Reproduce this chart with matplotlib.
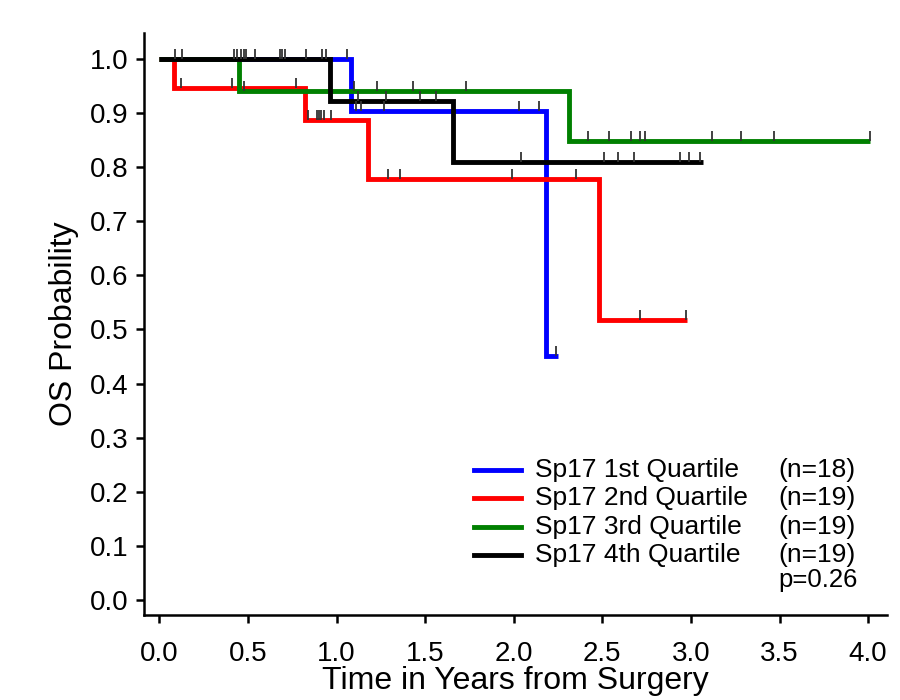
import numpy as np
import matplotlib
matplotlib.use("Agg")
import matplotlib.pyplot as plt
from matplotlib.lines import Line2D

plt.rcParams['font.family'] = ['Liberation Sans', 'DejaVu Sans']

# ---------------- data ----------------
group_labels = ["Sp17 1st Quartile", "Sp17 2nd Quartile", "Sp17 3rd Quartile", "Sp17 4th Quartile"]
group_n = ["(n=18)", "(n=19)", "(n=19)", "(n=19)"]
p_text = "p=0.26"

# 1st quartile (blue)
q1_event_t = [1.08, 2.18]
q1_event_s = [0.903, 0.451]
q1_censor_t = [0.09, 0.48, 0.49, 0.69, 0.71, 0.94, 1.06, 1.11, 1.14, 1.27, 2.03, 2.14, 2.24]
q1_end = 2.25

# 2nd quartile (red)
q2_event_t = [0.085, 0.82, 1.18, 2.48]
q2_event_s = [0.947, 0.887, 0.778, 0.518]
q2_censor_t = [0.12, 0.41, 0.77, 0.84, 0.89, 0.90, 0.91, 0.93, 0.97,
               1.29, 1.36, 1.99, 2.35, 2.71, 2.975]
q2_end = 2.98

# 3rd quartile (green)
q3_event_t = [0.45, 2.31]
q3_event_s = [0.941, 0.849]
q3_censor_t = [0.13, 0.42, 0.48, 1.10, 1.23, 1.43, 1.73,
               2.42, 2.54, 2.66, 2.71, 2.74, 3.12, 3.28, 3.47, 4.01]
q3_end = 4.01

# 4th quartile (black)
q4_event_t = [0.963, 1.66]
q4_event_s = [0.922, 0.809]
q4_censor_t = [0.44, 0.46, 0.54, 0.68, 0.83, 0.92, 1.12, 1.28, 1.47, 1.56,
               2.04, 2.51, 2.59, 2.68, 2.94, 2.99, 3.05]
q4_end = 3.07

colors = ["#0000ff", "#ff0000", "#008000", "#000000"]

x_ticks = [0.0, 0.5, 1.0, 1.5, 2.0, 2.5, 3.0, 3.5, 4.0]
y_ticks = [0.0, 0.1, 0.2, 0.3, 0.4, 0.5, 0.6, 0.7, 0.8, 0.9, 1.0]

groups = [
    (q1_event_t, q1_event_s, q1_censor_t, q1_end),
    (q2_event_t, q2_event_s, q2_censor_t, q2_end),
    (q3_event_t, q3_event_s, q3_censor_t, q3_end),
    (q4_event_t, q4_event_s, q4_censor_t, q4_end),
]

# ---------------- figure ----------------
W, H = 900, 700
fig = plt.figure(figsize=(W / 100, H / 100), dpi=100)
fig.patch.set_facecolor("white")

def px(x, y):
    return x / W, 1 - y / H

ax_l, ax_r, ax_t, ax_b = 144, 887, 33, 615
ax = fig.add_axes([ax_l / W, 1 - ax_b / H, (ax_r - ax_l) / W, (ax_b - ax_t) / H])

censor_marker = [(0, 0), (0, 1)]

for (et, es, ct, end), col in zip(groups, colors):
    t = np.array([0.0] + list(et) + [end])
    s = np.array([1.0] + list(es) + [es[-1]])
    ax.step(t, s, where="post", color=col, lw=3.5, solid_joinstyle="miter",
            solid_capstyle="butt", zorder=3)

for (et, es, ct, end), col in zip(groups, colors):
    et_a = np.array(et)
    s_full = np.array([1.0] + list(es))
    idx = np.searchsorted(et_a, np.array(ct), side="right")
    cs = s_full[idx]
    ax.plot(ct, cs, linestyle="none", marker=censor_marker, markersize=14,
            markeredgewidth=1.3, color="#333333", zorder=5)

ax.set_xlim((ax_l - 159.3) / 177.2, (ax_r - 159.3) / 177.2)
ax.set_ylim((600 - ax_b) / 541.0, (600 - ax_t) / 541.0)

ax.set_xticks(x_ticks)
ax.set_xticklabels([f"{v:.1f}" for v in x_ticks])
ax.set_yticks(y_ticks)
ax.set_yticklabels([f"{v:.1f}" for v in y_ticks])

for side in ["top", "right"]:
    ax.spines[side].set_visible(False)
for side in ["left", "bottom"]:
    ax.spines[side].set_linewidth(1.8)

ax.tick_params(axis="x", direction="out", length=6, width=1.8, labelsize=20, pad=13)
ax.tick_params(axis="y", direction="out", length=6, width=1.8, labelsize=20, pad=5)

ax.set_xlabel("Time in Years from Surgery", fontsize=23, labelpad=-1)
ax.set_ylabel("OS Probability", fontsize=23, labelpad=8)

# ---------------- legend (manual) ----------------
row_y = [470, 498, 527, 555]
for lab, n, col, yy in zip(group_labels, group_n, colors, row_y):
    x0, y0 = px(474, yy)
    x1, _ = px(521, yy)
    fig.add_artist(Line2D([x0, x1], [y0, y0], color=col, lw=3.5,
                          transform=fig.transFigure))
    fig.text(*px(535, yy), lab, fontsize=19, va="center", ha="left")
    fig.text(*px(778, yy), n, fontsize=19, va="center", ha="left")
fig.text(*px(778, 580), p_text, fontsize=18.5, va="center", ha="left")

fig.savefig("out.png", dpi=100, facecolor="white")
